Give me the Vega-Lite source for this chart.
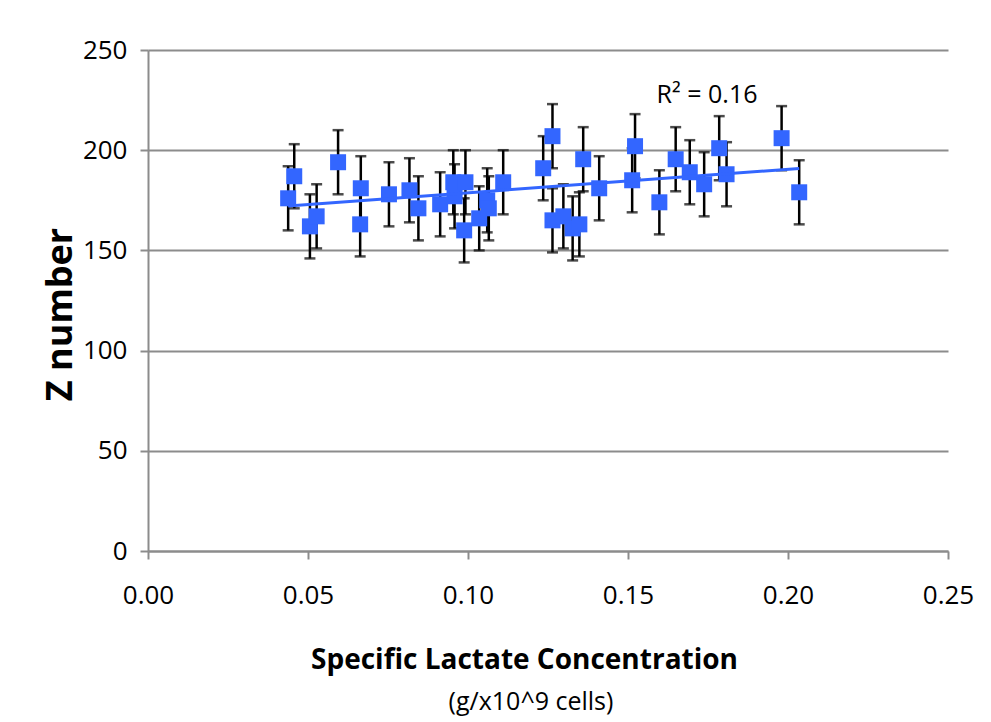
{
  "$schema": "https://vega.github.io/schema/vega-lite/v6.json",
  "width": 800,
  "height": 501,
  "autosize": "none",
  "padding": {"left": 148, "top": 50, "right": 43, "bottom": 171},
  "background": "white",
  "config": {
    "view": {"stroke": null},
    "font": "Open Sans"
  },
  "title": {
    "text": "(g/x10^9 cells)",
    "orient": "bottom",
    "anchor": "middle",
    "font": "Open Sans",
    "fontSize": 25,
    "fontWeight": "normal",
    "color": "black",
    "dx": -17,
    "offset": 16
  },
  "datasets": {
    "pts": [
      {"x": 0.0438, "z": 176, "err": 16},
      {"x": 0.0457, "z": 187, "err": 16},
      {"x": 0.0506, "z": 162, "err": 16},
      {"x": 0.0527, "z": 167, "err": 16},
      {"x": 0.0594, "z": 194, "err": 16},
      {"x": 0.0665, "z": 181, "err": 16},
      {"x": 0.0663, "z": 163, "err": 16},
      {"x": 0.0753, "z": 178, "err": 16},
      {"x": 0.0817, "z": 180, "err": 16},
      {"x": 0.0845, "z": 171, "err": 16},
      {"x": 0.0913, "z": 173, "err": 16},
      {"x": 0.0954, "z": 184, "err": 16},
      {"x": 0.0958, "z": 177, "err": 16},
      {"x": 0.0992, "z": 184, "err": 16},
      {"x": 0.0988, "z": 160, "err": 16},
      {"x": 0.1035, "z": 166, "err": 16},
      {"x": 0.1060, "z": 175, "err": 16},
      {"x": 0.1065, "z": 171, "err": 16},
      {"x": 0.1110, "z": 184, "err": 16},
      {"x": 0.1235, "z": 191, "err": 16},
      {"x": 0.1264, "z": 207, "err": 16},
      {"x": 0.1264, "z": 165, "err": 16},
      {"x": 0.1298, "z": 167, "err": 16},
      {"x": 0.1327, "z": 161, "err": 16},
      {"x": 0.1348, "z": 163, "err": 16},
      {"x": 0.1360, "z": 195.5, "err": 16},
      {"x": 0.1410, "z": 181, "err": 16},
      {"x": 0.1513, "z": 185, "err": 16},
      {"x": 0.1522, "z": 202, "err": 16},
      {"x": 0.1598, "z": 174, "err": 16},
      {"x": 0.1649, "z": 195.5, "err": 16},
      {"x": 0.1693, "z": 189, "err": 16},
      {"x": 0.1738, "z": 183, "err": 16},
      {"x": 0.1785, "z": 201, "err": 16},
      {"x": 0.1808, "z": 188, "err": 16},
      {"x": 0.1980, "z": 206, "err": 16},
      {"x": 0.2035, "z": 179, "err": 16}
    ],
    "trend": [
      {"x": 0.0438, "z": 172.2},
      {"x": 0.2035, "z": 190.9}
    ],
    "label": [
      {"x": 0.1747, "z": 227.7, "text": "R² = 0.16"}
    ]
  },
  "encoding": {
    "x": {
      "field": "x",
      "type": "quantitative",
      "scale": {"domain": [0, 0.25], "nice": false, "zero": true},
      "axis": {
        "title": "Specific Lactate Concentration",
        "titleFont": "Open Sans",
        "titleFontSize": 28,
        "titleFontWeight": "bold",
        "titleColor": "black",
        "titleX": 376,
        "titleY": 117,
        "titleAlign": "center",
        "titleBaseline": "alphabetic",
        "values": [0, 0.05, 0.1, 0.15, 0.2, 0.25],
        "format": ".2f",
        "labelFont": "Open Sans",
        "labelFontSize": 26,
        "labelColor": "black",
        "labelPadding": 23,
        "labelFlush": false,
        "labelOverlap": false,
        "grid": false,
        "domainColor": "#8c8c8c",
        "domainWidth": 2,
        "tickColor": "#8c8c8c",
        "tickWidth": 2,
        "tickSize": 8
      }
    },
    "y": {
      "field": "z",
      "type": "quantitative",
      "scale": {"domain": [0, 250], "nice": false},
      "axis": {
        "title": "Z number",
        "titleFont": "Open Sans",
        "titleFontSize": 36,
        "titleFontWeight": "bold",
        "titleColor": "black",
        "titleAngle": 270,
        "titleX": -77,
        "titleY": 264,
        "titleAlign": "center",
        "titleBaseline": "alphabetic",
        "values": [0, 50, 100, 150, 200, 250],
        "labelFont": "Open Sans",
        "labelFontSize": 26,
        "labelColor": "black",
        "labelPadding": 13,
        "labelFlush": false,
        "labelOverlap": false,
        "grid": true,
        "gridColor": "#8c8c8c",
        "gridWidth": 2,
        "domainColor": "#8c8c8c",
        "domainWidth": 2,
        "tickColor": "#8c8c8c",
        "tickWidth": 2,
        "tickSize": 8
      }
    }
  },
  "layer": [
    {
      "data": {"name": "pts"},
      "mark": {
        "type": "errorbar",
        "color": "black",
        "ticks": {"size": 11, "thickness": 2.5, "color": "black"},
        "rule": {"strokeWidth": 2.5, "color": "black"}
      },
      "encoding": {
        "yError": {"field": "err"}
      }
    },
    {
      "data": {"name": "pts"},
      "mark": {"type": "point", "shape": "square", "filled": true, "size": 256, "color": "#3366ff", "opacity": 1}
    },
    {
      "data": {"name": "trend"},
      "mark": {"type": "line", "color": "#3366ff", "strokeWidth": 3}
    },
    {
      "data": {"name": "label"},
      "mark": {"type": "text", "font": "Open Sans", "fontSize": 25, "color": "black", "align": "center", "baseline": "middle"},
      "encoding": {"text": {"field": "text"}}
    }
  ]
}
